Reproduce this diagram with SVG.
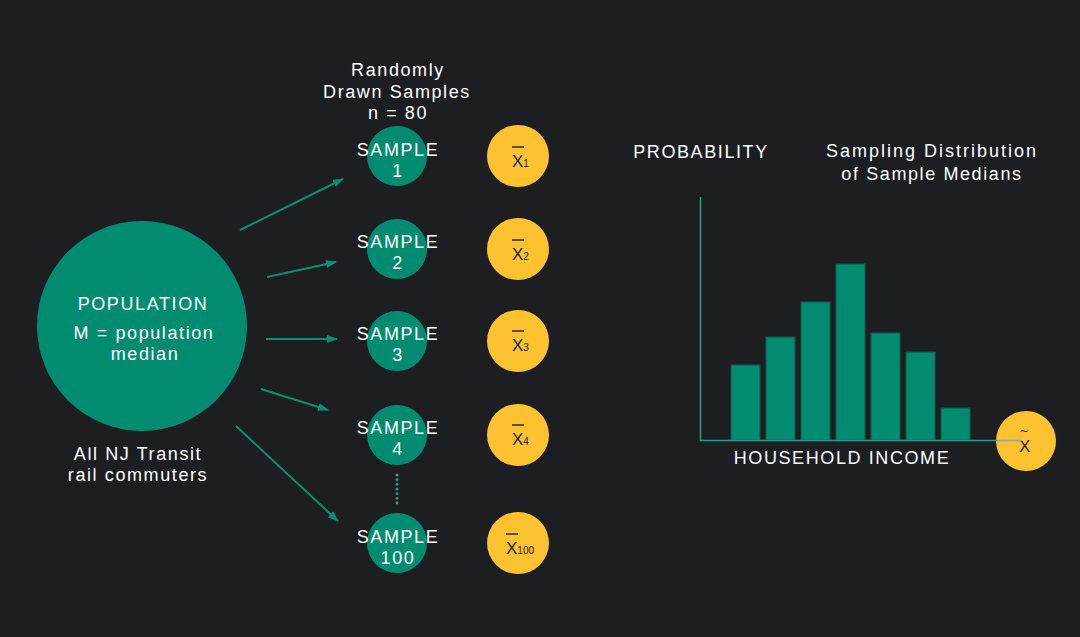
<svg xmlns="http://www.w3.org/2000/svg" width="1080" height="637" viewBox="0 0 1080 637">
  <defs>
    <style>
      .t { font-family: "Liberation Sans", Arial, sans-serif; fill: #ffffff; font-size: 18px; letter-spacing: 1.6px; text-anchor: middle; }
      .g { fill: #028c6f; }
      .y { fill: #fdc22f; }
      .xl { font-family: "Liberation Sans", Arial, sans-serif; fill: #1d1e22; font-size: 17px; }
      .sub { font-size: 10px; }
      .ob { stroke: #1d1e22; stroke-width: 1.4; }
      .arr { stroke: #0b8f71; stroke-width: 2; fill: none; marker-end: url(#ah); }
      .bar { fill: #028c6f; stroke: #0f5a4a; stroke-width: 1; }
    </style>
    <marker id="ah" markerUnits="userSpaceOnUse" markerWidth="11" markerHeight="8" refX="10" refY="4" orient="auto">
      <path d="M0,0 L11,4 L0,8 z" fill="#0b8f71"/>
    </marker>
  </defs>
  <rect width="1080" height="637" fill="#1d1e22"/>

  <g id="population">
    <circle class="g" cx="142" cy="326" r="105"/>
    <text class="t" x="143" y="310">POPULATION</text>
    <text class="t" x="144" y="339">M = population</text>
    <text class="t" x="145" y="360">median</text>
  </g>
  <g id="population-caption">
    <text class="t" x="138" y="460">All NJ Transit</text>
    <text class="t" x="138" y="481">rail commuters</text>
  </g>

  <g id="samples-title">
    <text class="t" x="398" y="76">Randomly</text>
    <text class="t" x="397" y="98">Drawn Samples</text>
    <text class="t" x="398" y="119">n = 80</text>
  </g>

  <g id="sample1">
    <circle class="g" cx="397" cy="156" r="30"/>
    <text class="t" x="398" y="156">SAMPLE</text>
    <text class="t" x="398" y="177">1</text>
  </g>
  <g id="sample2">
    <circle class="g" cx="397" cy="249" r="30"/>
    <text class="t" x="398" y="248">SAMPLE</text>
    <text class="t" x="398" y="269">2</text>
  </g>
  <g id="sample3">
    <circle class="g" cx="397" cy="341" r="30"/>
    <text class="t" x="398" y="340">SAMPLE</text>
    <text class="t" x="398" y="361">3</text>
  </g>
  <g id="sample4">
    <circle class="g" cx="397" cy="435" r="30"/>
    <text class="t" x="398" y="434">SAMPLE</text>
    <text class="t" x="398" y="455">4</text>
  </g>
  <g id="ellipsis" fill="#2aa58a">
    <circle cx="397" cy="475" r="1.4"/>
    <circle cx="397" cy="479.7" r="1.4"/>
    <circle cx="397" cy="484.3" r="1.4"/>
    <circle cx="397" cy="489" r="1.4"/>
    <circle cx="397" cy="493.7" r="1.4"/>
    <circle cx="397" cy="498.3" r="1.4"/>
    <circle cx="397" cy="503" r="1.4"/>
  </g>
  <g id="sample100">
    <circle class="g" cx="397" cy="543" r="30"/>
    <text class="t" x="398" y="543">SAMPLE</text>
    <text class="t" x="398" y="564">100</text>
  </g>

  <g id="xbar1">
    <circle class="y" cx="518" cy="156" r="31"/>
    <line class="ob" x1="512" y1="147" x2="524" y2="147"/>
    <text class="xl" x="512" y="167">X<tspan class="sub">1</tspan></text>
  </g>
  <g id="xbar2">
    <circle class="y" cx="518" cy="249" r="31"/>
    <line class="ob" x1="512" y1="240" x2="524" y2="240"/>
    <text class="xl" x="512" y="260">X<tspan class="sub">2</tspan></text>
  </g>
  <g id="xbar3">
    <circle class="y" cx="518" cy="341" r="31"/>
    <line class="ob" x1="512" y1="331" x2="524" y2="331"/>
    <text class="xl" x="512" y="351">X<tspan class="sub">3</tspan></text>
  </g>
  <g id="xbar4">
    <circle class="y" cx="518" cy="435" r="31"/>
    <line class="ob" x1="512" y1="425" x2="524" y2="425"/>
    <text class="xl" x="512" y="445">X<tspan class="sub">4</tspan></text>
  </g>
  <g id="xbar100">
    <circle class="y" cx="518" cy="543" r="31"/>
    <line class="ob" x1="506" y1="534" x2="518" y2="534"/>
    <text class="xl" x="506" y="554">X<tspan class="sub">100</tspan></text>
  </g>

  <g id="connectors">
    <line class="arr" x1="240" y1="230" x2="343" y2="179"/>
    <line class="arr" x1="267" y1="277" x2="336" y2="262"/>
    <line class="arr" x1="266" y1="339" x2="337" y2="339"/>
    <line class="arr" x1="261" y1="389" x2="328" y2="410"/>
    <line class="arr" x1="236" y1="426" x2="338" y2="521"/>
  </g>

  <g id="chart">
    <text class="t" x="701" y="158">PROBABILITY</text>
    <text class="t" x="932" y="157" style="letter-spacing:2px">Sampling Distribution</text>
    <text class="t" x="932" y="180">of Sample Medians</text>
    <rect class="bar" x="731" y="365" width="29" height="75"/>
    <rect class="bar" x="766" y="337" width="29" height="103"/>
    <rect class="bar" x="801" y="302" width="29" height="138"/>
    <rect class="bar" x="836" y="264" width="29" height="176"/>
    <rect class="bar" x="871" y="333" width="29" height="107"/>
    <rect class="bar" x="906" y="352" width="29" height="88"/>
    <rect class="bar" x="941" y="408" width="29" height="32"/>
    <line x1="700.5" y1="197" x2="700.5" y2="441" stroke="#2a9d87" stroke-width="1.5"/>
    <text class="t" x="842" y="464">HOUSEHOLD INCOME</text>
  </g>
  <g id="xtilde">
    <circle class="y" cx="1026" cy="441" r="30"/>
    <text class="xl" x="1019" y="452">X<tspan x="1020" y="436" font-size="14">~</tspan></text>
  </g>
  <g id="x-axis">
    <line x1="700" y1="440.5" x2="997" y2="440.5" stroke="#2a9d87" stroke-width="1.5"/>
    <line x1="997" y1="440.5" x2="1022" y2="440.5" stroke="#9aa3a0" stroke-width="1.5"/>
  </g>
</svg>
